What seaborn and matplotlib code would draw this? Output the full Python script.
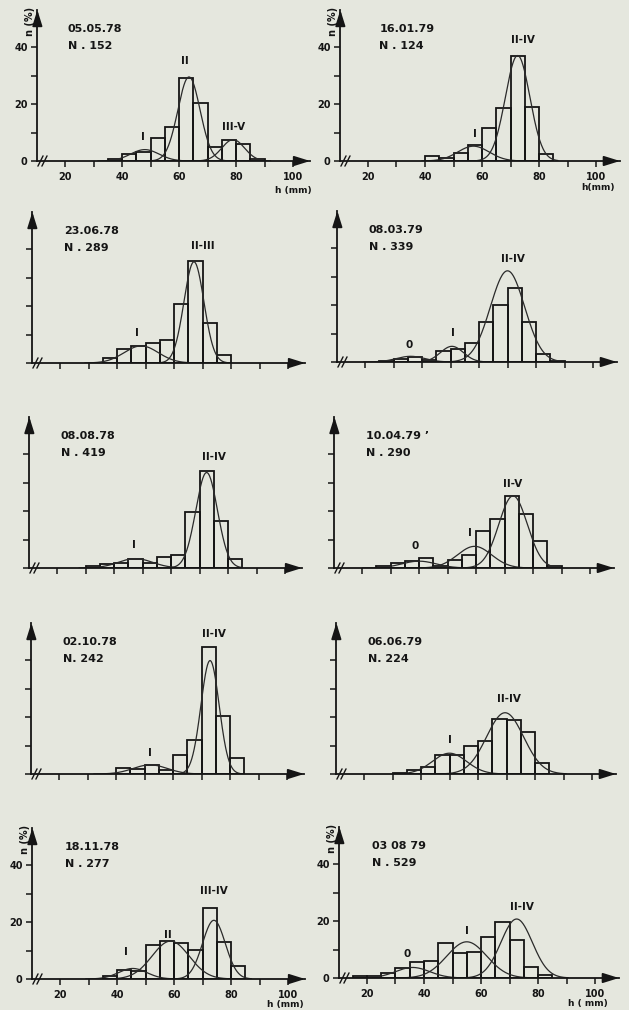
import numpy as np
import pandas as pd
import matplotlib
matplotlib.use("Agg")
import matplotlib.pyplot as plt
import seaborn as sns

sns.set_theme(style="ticks")
plt.rcParams['font.family'] = ['DejaVu Sans']
plt.rcParams['font.weight'] = 'bold'

# ---------------- data ----------------
dates = ["05.05.78", "16.01.79", "23.06.78", "08.03.79", "08.08.78",
         "10.04.79 \u2019", "02.10.78", "06.06.79", "18.11.78", "03 08 79"]
ns = ["N . 152", "N . 124", "N . 289", "N . 339", "N . 419",
      "N . 290", "N. 242", "N. 224", "N . 277", "N . 529"]

bin_width = 5
bin_start = [35, 40, 35, 25, 30, 25, 40, 30, 35, 15]

h_050578 = [0.6, 2.4, 3.2, 8.1, 12.0, 29.0, 20.2, 5.0, 7.3, 6.1, 0.7]
h_160179 = [1.8, 0.9, 2.7, 5.5, 11.5, 18.5, 37.0, 19.0, 2.5]
h_230678 = [1.8, 5.0, 5.9, 7.0, 8.2, 20.6, 35.9, 13.9, 2.8]
h_080379 = [0.5, 1.0, 1.8, 0.8, 3.8, 4.4, 6.7, 14.0, 19.9, 26.1, 14.0, 2.9, 0.5]
h_080878 = [0.7, 1.3, 1.9, 3.1, 1.9, 3.7, 4.5, 19.8, 33.9, 16.4, 3.3]
h_100479 = [0.8, 1.8, 2.4, 3.6, 0.6, 2.7, 4.4, 12.9, 17.1, 25.3, 19.1, 9.4, 0.8]
h_021078 = [2.2, 1.7, 3.0, 1.4, 6.7, 12.0, 44.7, 20.5, 5.5]
h_060679 = [0.5, 1.4, 2.6, 6.5, 6.5, 9.7, 11.7, 19.2, 18.8, 14.8, 4.0]
h_181178 = [1.2, 3.1, 2.9, 12.1, 13.3, 12.7, 10.1, 25.0, 13.0, 4.7]
h_030879 = [0.6, 0.8, 1.8, 3.5, 5.5, 6.1, 12.3, 8.8, 9.2, 14.3, 19.8, 13.5, 3.7, 1.0]
heights = [h_050578, h_160179, h_230678, h_080379, h_080878,
           h_100479, h_021078, h_060679, h_181178, h_030879]

# fitted normal components: name, mean (mm), sd (mm), peak (%)
comp_names = [["I", "II", "III-V"], ["I", "II-IV"], ["I", "II-III"],
              ["0", "I", "II-IV"], ["I", "II-IV"], ["0", "I", "II-V"],
              ["I", "II-IV"], ["I", "II-IV"], ["I", "II", "III-IV"],
              ["0", "I", "II-IV"]]
comp_mean = [[48, 63.5, 79], [57, 72.5], [48.5, 67], [36, 50.5, 70],
             [47.5, 72.5], [40, 59.5, 73], [52, 73], [50, 69.5],
             [45.5, 58.8, 74], [36, 55, 72.5]]
comp_sd = [[5, 3.9, 4], [5.5, 4.3], [6, 3.5], [5, 4, 6], [6, 3.8],
           [6, 6, 5], [6, 3.2], [6, 6.5], [5, 6.5, 4], [6, 7, 5.5]]
comp_peak = [[4.0, 29.5, 7.5], [5.2, 37.0], [6.0, 35.5], [2.0, 5.5, 32.0],
             [3.3, 33.5], [2.4, 7.6, 25.3], [3.2, 39.8], [7.3, 21.5],
             [3.7, 13.3, 20.6], [3.7, 12.7, 20.7]]

x_ticks = [20, 30, 40, 50, 60, 70, 80, 90, 100]
x_ticklabels = ["20", "", "40", "", "60", "", "80", "", "100"]
y_ticks = [0, 10, 20, 30, 40]
y_ticklabels = ["0", "", "20", "", "40"]

# ---------------- layout (pixels of the reference) ----------------
label_pos = [[(47.4, 8.5), (62, 35), (79, 12)],
             [(57.5, 9.5), (74.5, 42.6)],
             [(47, 10.6), (70, 41)],
             [(35.6, 6.1), (51, 10.2), (71.8, 36)],
             [(47, 7.9), (75, 39)],
             [(38.7, 7.6), (58, 12.4), (72.8, 29.4)],
             [(52, 7.3), (74.4, 49)],
             [(50, 11.8), (70.8, 26.3)],
             [(43, 9.5), (58, 15.3), (74, 31)],
             [(34, 8.4), (55, 16.4), (74.5, 24.8)]]
text_x = [21, 24, 21.3, 21.3, 21.3, 21.3, 21.4, 21.4, 21.8, 21.8]
px20 = [65, 368, 60, 365, 57, 362, 59, 364, 60, 367]
base = [161, 161, 363, 362, 568, 568, 774, 774, 979, 978]
labelled = [True, True, False, False, False, False, False, False, True, True]
hlabels = {0: ("h (mm)", 100, -10.2), 1: ("h(mm)", 100.7, -9.2),
           8: ("h (mm)", 99, -9.0), 9: ("h ( mm)", 97.5, -9.0)}

W, H = 629, 1010
PX = 2.85
XMIN = 10.3
XMAX = [106, 108.4]
YMAX = 53
PAPER = "#e5e7de"
INK = "#151515"
CURVE = "#2a2a2a"

fig = plt.figure(figsize=(W / 100, H / 100), dpi=100)
fig.patch.set_facecolor(PAPER)

for i in range(10):
    xmax = XMAX[i % 2]
    left_px = px20[i] - (20 - XMIN) * PX
    ax = fig.add_axes([left_px / W, (H - base[i]) / H,
                       (xmax - XMIN) * PX / W, YMAX * PX / H])
    ax.patch.set_alpha(0)

    hs = np.array(heights[i], dtype=float)
    lo = bin_start[i]
    hi = lo + bin_width * len(hs)
    centers = lo + bin_width * (np.arange(len(hs)) + 0.5)
    df = pd.DataFrame({"h": centers, "pct": hs})
    sns.histplot(data=df, x="h", weights="pct", binwidth=bin_width,
                 binrange=(lo, hi), fill=False, element="bars",
                 color=INK, linewidth=1.3, ax=ax)

    for name, mu, sd, pk, (lx, ly) in zip(comp_names[i], comp_mean[i],
                                          comp_sd[i], comp_peak[i], label_pos[i]):
        xs = np.linspace(mu - 3.3 * sd, mu + 3.3 * sd, 200)
        ys = pk * np.exp(-0.5 * ((xs - mu) / sd) ** 2)
        sns.lineplot(x=xs, y=ys, color=CURVE, linewidth=0.9, ax=ax)
        ax.text(lx, ly, name, ha="center", va="center", fontsize=7.5,
                fontweight="bold", color=INK)

    ax.text(text_x[i], 46.3, dates[i], ha="left", va="center",
            fontsize=8, fontweight="bold", color=INK)
    ax.text(text_x[i], 40.3, ns[i], ha="left", va="center",
            fontsize=8, fontweight="bold", color=INK)

    ax.set_xlim(XMIN, xmax)
    ax.set_ylim(0, YMAX)
    ax.set_xlabel("")
    ax.set_ylabel("")
    for s in ["top", "right"]:
        ax.spines[s].set_visible(False)
    for s in ["left", "bottom"]:
        ax.spines[s].set_linewidth(1.3)
        ax.spines[s].set_color(INK)
    ax.set_xticks(x_ticks)
    ax.set_yticks(y_ticks)
    if labelled[i]:
        ax.set_xticklabels(x_ticklabels)
        ax.set_yticklabels(y_ticklabels)
    else:
        ax.set_xticklabels([""] * len(x_ticks))
        ax.set_yticklabels([""] * len(y_ticks))
    ax.tick_params(axis="both", direction="out", length=4, width=1.1,
                   color=INK, labelcolor=INK, labelsize=7)
    ax.tick_params(axis="x", pad=4)
    ax.tick_params(axis="y", pad=3)

    # arrow heads
    ap = dict(arrowstyle="-|>,head_length=0.8,head_width=0.25", color=INK,
              lw=1.3, shrinkA=0, shrinkB=0)
    ax.annotate("", xy=(xmax, 0), xytext=(xmax - 4, 0), arrowprops=ap,
                annotation_clip=False)
    ax.annotate("", xy=(XMIN, YMAX), xytext=(XMIN, YMAX - 5), arrowprops=ap,
                annotation_clip=False)
    # axis break mark
    for dx in (0.2, 1.6):
        ax.plot([XMIN + dx, XMIN + dx + 1.8], [-1.8, 1.8], color=INK,
                lw=1.0, clip_on=False)

    if labelled[i]:
        ax.text(XMIN - 2.6, 49, "n (%)", rotation=90, ha="center",
                va="center", fontsize=7, fontweight="bold", color=INK)
    if i in hlabels:
        t, hx, hy = hlabels[i]
        ax.text(hx, hy, t, ha="center", va="center", fontsize=6.5,
                fontweight="bold", color=INK)

fig.savefig("out.png", dpi=100, facecolor=PAPER)
